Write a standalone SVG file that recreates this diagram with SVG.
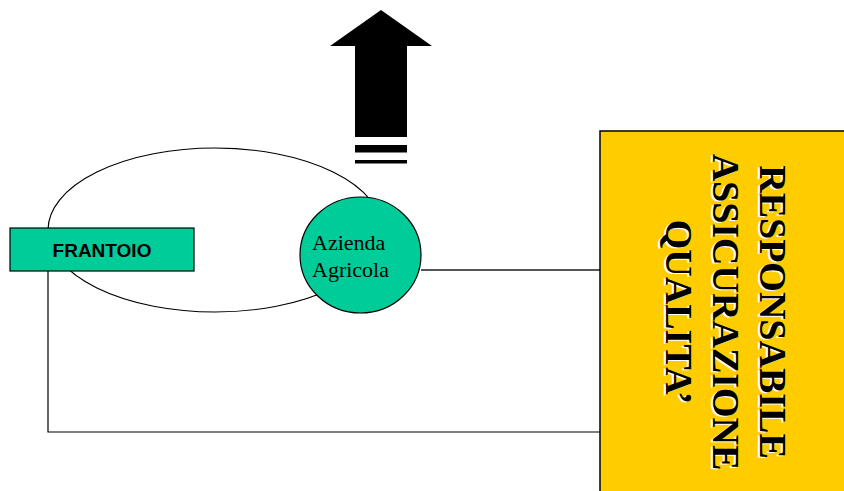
<svg xmlns="http://www.w3.org/2000/svg" width="844" height="491" viewBox="0 0 844 491">
<style>
.ln{fill:none;stroke:#000;stroke-width:1.2}
.green{fill:#00CC99;stroke:#000;stroke-width:1.2}
.big{font-family:"Liberation Serif","Times New Roman",serif;font-weight:bold;font-size:38px;text-anchor:middle}
.sm{font-family:"Liberation Serif","Times New Roman",serif;font-size:22px;fill:#000}
.fr{font-family:"Liberation Sans",Arial,sans-serif;font-weight:bold;font-size:19px;text-anchor:middle;fill:#000}
</style>
<rect width="844" height="491" fill="#fff"/>
<g id="loop">
<ellipse cx="215" cy="230" rx="167" ry="82" class="ln"/>
</g>
<g id="connectors">
<line x1="421" y1="270" x2="600" y2="270" stroke="#555" stroke-width="1.8"/>
<polyline points="48,271 48,432 600,432" class="ln"/>
</g>
<g id="arrow">
<polygon points="381,10 432,46 407,46 407,137 355,137 355,46 330,46" fill="#000"/>
<rect x="355" y="145" width="52" height="7.5" fill="#000"/>
<rect x="355" y="160" width="52" height="3.5" fill="#000"/>
</g>
<g id="frantoio">
<rect x="10" y="228" width="184" height="43" class="green"/>
<text x="102" y="257" class="fr">FRANTOIO</text>
</g>
<g id="azienda">
<ellipse cx="360.5" cy="255" rx="60.5" ry="58" class="green"/>
<text x="312" y="250" class="sm">Azienda</text>
<text x="312" y="277" class="sm">Agricola</text>
</g>
<g id="responsabile">
<rect x="600" y="131" width="250" height="370" fill="#FFCC00" stroke="#000" stroke-width="1.5"/>
<g transform="translate(758,313) rotate(90)" fill="#fff">
<text x="0" y="0" class="big">RESPONSABILE</text>
<text x="0" y="47" class="big">ASSICURAZIONE</text>
<text x="0" y="94" class="big">QUALITA’</text>
</g>
<g transform="translate(760,312) rotate(90)" fill="#000">
<text x="0" y="0" class="big">RESPONSABILE</text>
<text x="0" y="47" class="big">ASSICURAZIONE</text>
<text x="0" y="94" class="big">QUALITA’</text>
</g>
</g>
</svg>
